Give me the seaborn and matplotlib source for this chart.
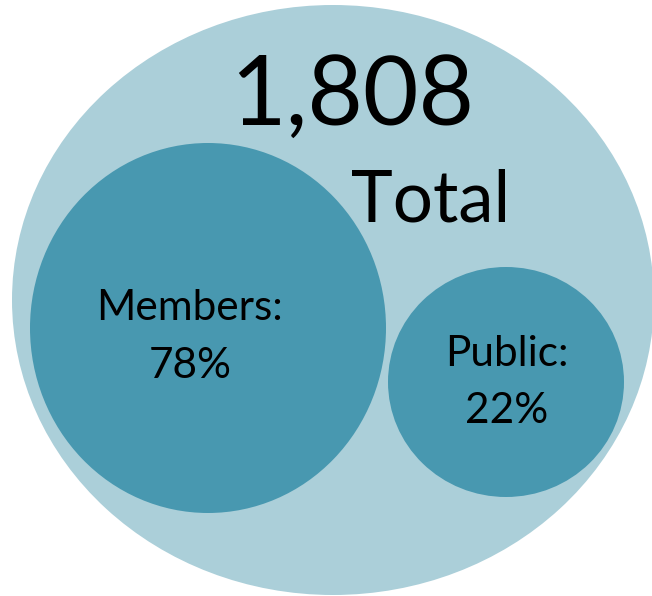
import matplotlib
matplotlib.use("Agg")
import matplotlib.pyplot as plt
from matplotlib.patches import Ellipse
import seaborn as sns

# ---- data ----
total_value = 1808
total_label = "Total"
categories = ["Members", "Public"]
shares = [78, 22]

# ---- layout (pixels) ----
W, H = 652, 596
outer = dict(cx=333, cy=300, rx=321, ry=295)
inner = [dict(cx=208, cy=328, rx=178, ry=185),
         dict(cx=506, cy=382, rx=118, ry=115)]
light = "#abcfd9"
dark = "#4898b0"

sns.set_style("white")
plt.rcParams["font.family"] = ["Lato", "DejaVu Sans"]

fig = plt.figure(figsize=(W / 100, H / 100), dpi=100)
ax = fig.add_axes([0, 0, 1, 1])
ax.set_xlim(0, W)
ax.set_ylim(H, 0)
ax.set_axis_off()

ax.add_patch(Ellipse((outer["cx"], outer["cy"]), 2 * outer["rx"], 2 * outer["ry"],
                     facecolor=light, edgecolor="none"))
for c in inner:
    ax.add_patch(Ellipse((c["cx"], c["cy"]), 2 * c["rx"], 2 * c["ry"],
                         facecolor=dark, edgecolor="none"))

ax.text(352, 125, f"{total_value:,}", ha="center", va="baseline", fontsize=69, color="black")
ax.text(431, 222, total_label, ha="center", va="baseline", fontsize=51, color="black")

label_pos = [(190, 320, 378, 30.5), (507, 366, 423, 30.5)]
for cat, sh, (x, y1, y2, fs) in zip(categories, shares, label_pos):
    ax.text(x, y1, f"{cat}:", ha="center", va="baseline", fontsize=fs, color="black")
    ax.text(x, y2, f"{sh}%", ha="center", va="baseline", fontsize=fs, color="black")

fig.savefig("out.png", dpi=100)
